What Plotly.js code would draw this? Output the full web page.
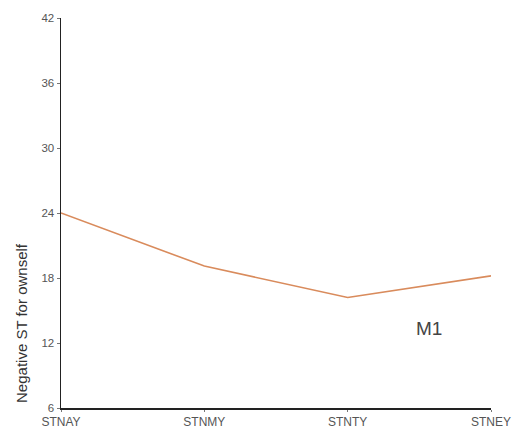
<!DOCTYPE html>
<html>
<head>
<meta charset="utf-8">
<script src="https://cdn.plot.ly/plotly-3.0.1.min.js"></script>
<style>html,body{margin:0;padding:0;background:#fff;}#chart{width:514px;height:430px;}</style>
</head>
<body>
<div id="chart"></div>
<script>
const categories = ["STNAY", "STNMY", "STNTY", "STNEY"];
const values = [24.0, 19.1, 16.2, 18.2];
const yTicks = [6, 12, 18, 24, 30, 36, 42];
const yTitle = "Negative ST for ownself";
const seriesLabel = "M1";

const trace = {
  x: categories.map((c, i) => i),
  y: values,
  type: "scatter",
  mode: "lines",
  line: {color: "#d98b5c", width: 1.6},
  hoverinfo: "skip"
};

const layout = {
  width: 514, height: 430,
  margin: {l: 61, r: 23, t: 18, b: 22},
  paper_bgcolor: "#ffffff", plot_bgcolor: "#ffffff",
  showlegend: false,
  font: {family: "Liberation Sans, Arial, sans-serif", color: "#555"},
  xaxis: {
    range: [0, 3], tickmode: "array",
    tickvals: categories.map((c, i) => i), ticktext: categories,
    showgrid: false, zeroline: false,
    showline: true, linecolor: "#222", linewidth: 1.5,
    ticks: "outside", ticklen: 2, tickcolor: "#777",
    tickfont: {size: 12, color: "#555"}
  },
  yaxis: {
    range: [6, 42], tickmode: "array", tickvals: yTicks,
    ticktext: yTicks.map(String),
    showgrid: false, zeroline: false,
    showline: true, linecolor: "#222", linewidth: 1.5,
    ticks: "outside", ticklen: 3, tickcolor: "#777",
    tickfont: {size: 11.5, color: "#555"}
  },
  annotations: [
    {text: yTitle, xref: "paper", yref: "paper", x: -0.0907, y: 0.218,
     xanchor: "center", yanchor: "middle", textangle: -90, showarrow: false,
     font: {size: 15, color: "#333"}},
    {text: seriesLabel, xref: "x", yref: "y", x: 2.57, y: 13.3,
     xanchor: "center", yanchor: "middle", showarrow: false,
     font: {size: 19, color: "#444"}}
  ]
};

Plotly.newPlot("chart", [trace], layout, {displayModeBar: false, staticPlot: true});
</script>
</body>
</html>
